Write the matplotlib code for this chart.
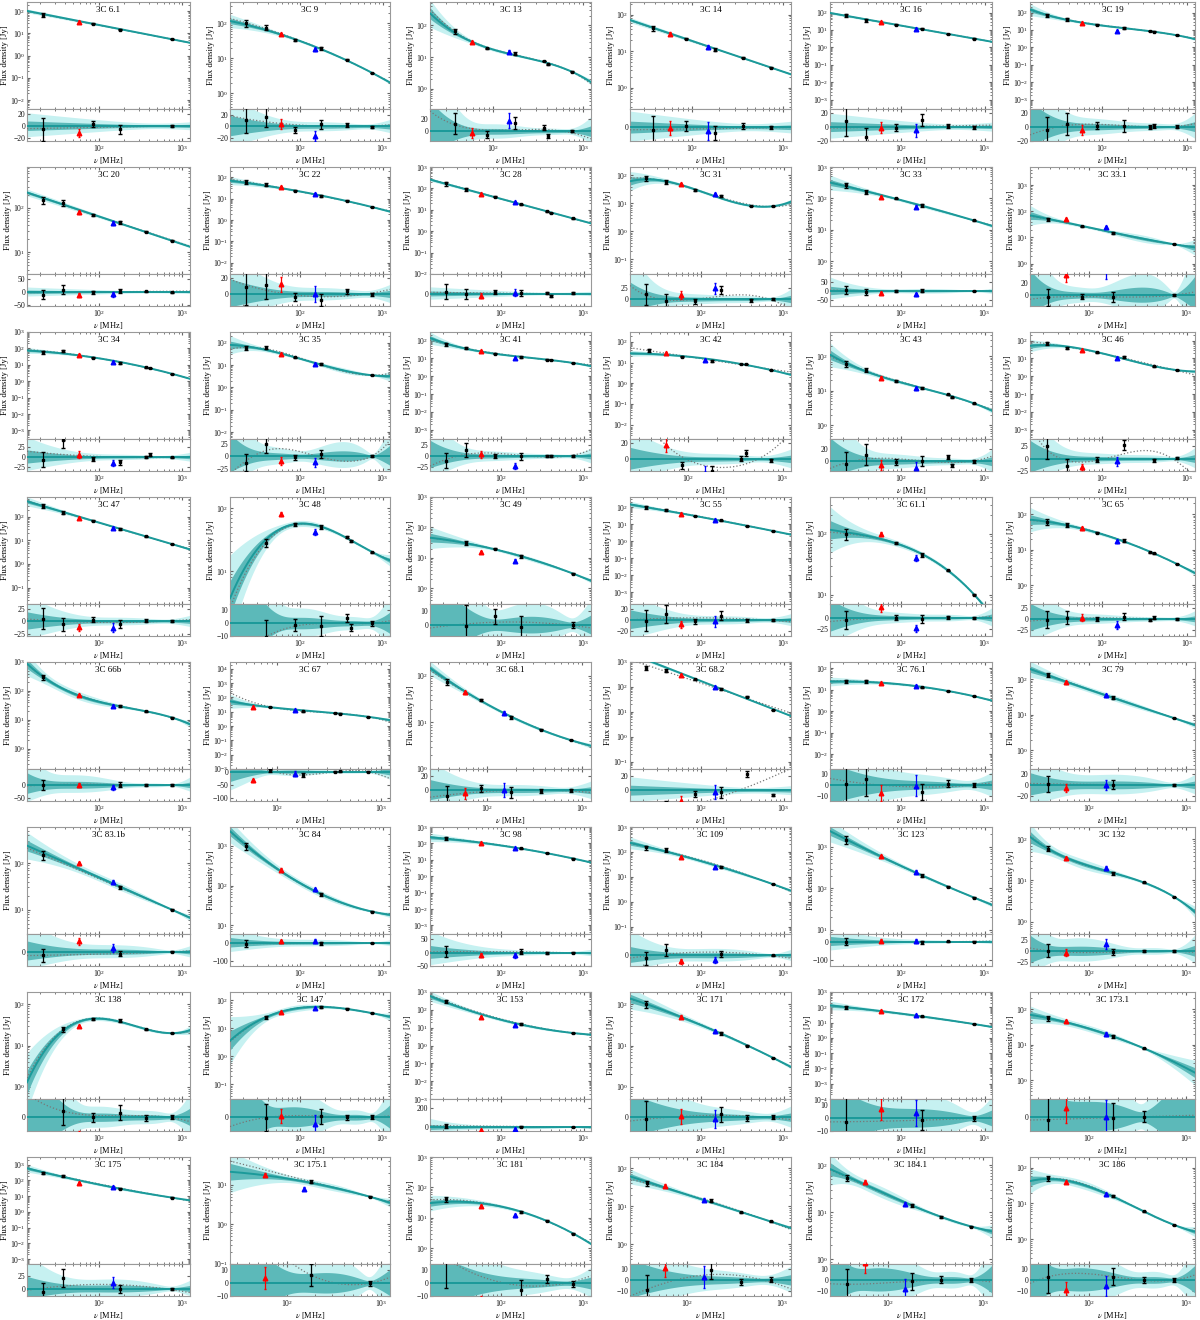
import numpy as np
import matplotlib
matplotlib.use("Agg")
import matplotlib.pyplot as plt
from matplotlib.ticker import LogLocator, MaxNLocator, NullFormatter

n = np.nan

NAMES = ["3C 6.1", "3C 9", "3C 13", "3C 14", "3C 16", "3C 19",
         "3C 20", "3C 22", "3C 28", "3C 31", "3C 33", "3C 33.1",
         "3C 34", "3C 35", "3C 41", "3C 42", "3C 43", "3C 46",
         "3C 47", "3C 48", "3C 49", "3C 55", "3C 61.1", "3C 65",
         "3C 66b", "3C 67", "3C 68.1", "3C 68.2", "3C 76.1", "3C 79",
         "3C 83.1b", "3C 84", "3C 98", "3C 109", "3C 123", "3C 132",
         "3C 138", "3C 147", "3C 153", "3C 171", "3C 172", "3C 173.1",
         "3C 175", "3C 175.1", "3C 181", "3C 184", "3C 184.1", "3C 186"]

# black reference points (Jy) at fixed frequencies (MHz)
S22 = [70, 100, n, n, 70, 70,
       150, 60, 170, 80, 260, n,
       60, 60, 60, n, 60, 70,
       300, n, n, 100, 100, 60,
       300, n, n, 600, 25, n,
       150, 1000, 200, 150, 1500, n,
       n, n, 300, 100, 100, n,
       300, n, 40, n, n, n]
S38 = [n, 75, 65, 42, 35, 40,
       130, 45, 90, 60, 160, 50,
       70, 60, 40, 40, 40, 40,
       150, 28, 30, 70, n, 50,
       n, n, 75, 450, 25, 130,
       n, n, n, 120, n, 60,
       25, 25, n, n, n, 55,
       200, n, n, 40, 55, 50]
S86 = [28, 33, 19, 22, 20, 20,
       70, 23, 40, 30, 100, 27,
       27, 22, 18, 19, 19, 22,
       70, 55, 20, 30, 70, 30,
       n, 22, 30, 200, n, n,
       n, n, n, n, n, n,
       45, n, n, n, n, n,
       n, n, n, n, n, n]
S178 = [15, 19, 13, 11, 12, 13,
        47, 13, 18, 18, 60, 15,
        13, 11, 12, 12, 12, 12,
        30, 50, 11, 17, 45, 18,
        30, 11, 13, 80, 13, 30,
        30, 60, 50, 25, 200, 15,
        40, 60, 16, 20, 25, 17,
        30, 12, 15, 14, 14, 16]
S365 = [n, 9, 7.5, 6.5, 6, 8.5,
        29, 8, 8.5, n, n, n,
        7, n, 8.5, 8.5, 8, n,
        15, 35, n, 8, 25, 8.5,
        20, 8, 7, 40, 9, n,
        n, n, 25, n, 110, 9,
        25, 50, n, 10, n, 8,
        n, n, 8, 7, 8, 6]
S408 = [n, n, 6, n, n, 8,
        n, n, 7, 8, n, n,
        6.5, n, 8, 8.3, 6.5, 3.5,
        n, 30, n, n, n, 8,
        n, 7.5, n, n, n, n,
        n, n, n, n, n, n,
        n, n, n, n, n, n,
        n, n, n, n, n, n]
S750 = [5.5, 3.8, 3.5, 3.5, 3.2, 5,
        18, 4, 4, 8, 20, 5.5,
        2.8, 3.5, 5.5, 4.3, 4.3, 2.2,
        7, 20, 3, 4, 10, 4,
        12, 4.5, 4.2, 12, 5, 8,
        10, 22, 12, 5, 60, 4,
        20, 35, 5, 5, 8, n,
        8, 5, 3, 4, 5, 2.5]
# LOFAR measurements
S_LBA = [32, 50, 30, 30, 28, 25,
         80, 35, 55, 50, 115, 50,
         40, 30, 25, 28, 24, 28,
         90, 80, 15, 40, 100, 40,
         70, 20, 45, 300, 20, 80,
         100, 250, 100, 60, 600, 35,
         30, 40, 40, 50, 60, 45,
         70, 18, 25, 35, 45, 40]
S_HBA = [n, 18, 15, 13, 12, 9,
         45, 16, 22, 22, 55, 25,
         15, 11, 10, 13, 12, 11,
         33, 42, 8, 18, 40, 17,
         30, 13, 16, 100, 15, 35,
         40, 80, 50, 25, 250, 20,
         n, 55, 15, 22, 30, 20,
         40, 8, 12, 15, 15, 18]

BLACK_FREQ = [22, 38, 86, 178, 365, 408, 750]
BLACK_ERR = [0.2, 0.15, 0.05, 0.08, 0.03, 0.03, 0.02]
LBA_FREQ, HBA_FREQ = 58, 150
LBA_ERR, HBA_ERR = 0.08, 0.1
LOFAR_FIT_ERR = 0.2

FIT_DEG = [1, 2, 3, 1, 1, 3,
           1, 2, 1, 3, 2, 3,
           2, 3, 3, 2, 3, 3,
           2, 3, 2, 2, 3, 3,
           3, 3, 2, 1, 2, 2,
           2, 2, 2, 2, 2, 3,
           3, 3, 2, 2, 2, 2,
           2, 2, 2, 2, 3, 3]

X_LO = [14, 14, 20, 21, 14, 14,
        14, 14, 14, 14, 14, 25,
        14, 14, 14, 24, 14, 14,
        14, 14, 14, 14, 14, 14,
        14, 35, 25, 14, 14, 25,
        14, 14, 14, 14, 14, 25,
        14, 14, 14, 14, 14, 25,
        14, 25, 14, 25, 25, 25]
X_HI = 1230

Y_LO = [4e-3, 0.36, 0.23, 0.26, 3e-4, 3e-4,
        3.2, 3e-3, 0.01, 0.03, 0.4, 0.4,
        3e-4, 0.005, 3e-4, 2e-3, 0.4, 3e-4,
        0.02, 3, 0.3, 2e-4, 7, 0.3,
        0.2, 1e-3, 1, 0.05, 2e-3, 0.3,
        3, 6, 3e-4, 0.05, 8, 0.5,
        0.5, 0.03, 1e-3, 0.5, 1e-4, 0.3,
        5e-4, 0.1, 0.3, 0.3, 0.8, 0.2]
Y_HI = [260, 400, 550, 220, 400, 400,
        840, 300, 1000, 200, 1000, 5000,
        1000, 300, 300, 300, 500, 300,
        700, 150, 1000, 400, 400, 300,
        1000, 3e4, 200, 1000, 200, 300,
        600, 3000, 1000, 1000, 3000, 200,
        200, 200, 1000, 200, 1000, 300,
        3000, 50, 1000, 200, 150, 200]

R_LO = [-25, -25, -15, -15, -20, -20,
        -55, -15, -35, -15, -80, -18,
        -35, -30, -35, -15, -15, -25,
        -30, -10, -8, -30, -40, -40,
        -60, -110, -15, -15, -15, -30,
        -40, -130, -50, -30, -130, -35,
        -15, -15, -40, -15, -10, -8,
        -15, -10, -10, -15, -15, -15]
R_HI = [28, 30, 35, 20, 25, 25,
        70, 25, 55, 55, 90, 35,
        45, 35, 40, 25, 35, 40,
        35, 15, 15, 30, 30, 35,
        60, 10, 30, 30, 15, 30,
        50, 50, 70, 60, 40, 40,
        20, 20, 300, 20, 15, 10,
        50, 15, 15, 15, 15, 15]

TEAL = "#1b9a9a"
DARK = "#5cb9b9"
LIGHT = "#c6f1f1"

plt.rcParams.update({
    "font.family": ["Liberation Serif", "DejaVu Serif"],
    "mathtext.fontset": "stix",
    "xtick.direction": "in", "ytick.direction": "in",
    "xtick.top": True, "ytick.right": True,
    "xtick.labelsize": 5.5, "ytick.labelsize": 5.5,
    "xtick.major.size": 2.5, "ytick.major.size": 2.5,
    "xtick.minor.size": 1.3, "ytick.minor.size": 1.3,
    "xtick.major.pad": 1.5, "ytick.major.pad": 1.2,
    "xtick.color": "#666", "ytick.color": "#666",
    "xtick.labelcolor": "#111", "ytick.labelcolor": "#111",
    "axes.edgecolor": "#999", "axes.linewidth": 0.8,
})

fig = plt.figure(figsize=(12, 13.2), dpi=100)
W, H = 1200.0, 1320.0
LEFTS = [27, 230, 430, 630, 830, 1030]
RIGHTS = [190, 390, 591, 791, 992, 1195]

BLACK = [S22, S38, S86, S178, S365, S408, S750]


def collect(i):
    f, s, e = [], [], []
    for nu, arr, ef in zip(BLACK_FREQ, BLACK, BLACK_ERR):
        v = arr[i]
        if np.isfinite(v):
            f.append(nu); s.append(v); e.append(ef * v)
    return np.array(f, float), np.array(s, float), np.array(e, float)


for i, name in enumerate(NAMES):
    r, c = divmod(i, 6)
    x0 = LEFTS[c] / W
    wd = (RIGHTS[c] - LEFTS[c]) / W
    top = 165 * r + 2
    mid = 165 * r + 109
    bot = 165 * r + 141
    ax = fig.add_axes([x0, 1 - mid / H, wd, (mid - top) / H])
    axr = fig.add_axes([x0, 1 - bot / H, wd, (bot - mid) / H], sharex=ax)

    f, s, e = collect(i)

    # main fit: black points plus LOFAR points with a loose weight
    ff, sf, ef = list(f), list(s), list(e / s)
    if np.isfinite(S_LBA[i]):
        ff.append(LBA_FREQ); sf.append(S_LBA[i]); ef.append(LOFAR_FIT_ERR)
    if np.isfinite(S_HBA[i]):
        ff.append(HBA_FREQ); sf.append(S_HBA[i]); ef.append(LOFAR_FIT_ERR)
    ff, sf, ef = np.array(ff), np.array(sf), np.array(ef)
    deg = min(FIT_DEG[i], len(ff) - 1)
    xf = np.log10(ff / 150.0)
    p, C = np.polyfit(xf, np.log10(sf), deg, w=np.log(10) / ef, cov="unscaled")

    # alternative fit: black points only, unweighted (dotted)
    dega = min(deg, len(f) - 1)
    pa = np.polyfit(np.log10(f / 150.0), np.log10(s), dega)

    nu = np.logspace(np.log10(X_LO[i]), np.log10(X_HI), 300)
    xg = np.log10(nu / 150.0)
    V = np.vander(xg, deg + 1)
    logm = V @ p
    sig = np.sqrt(np.einsum("ij,jk,ik->i", V, C, V))
    model = 10 ** logm
    alt = 10 ** np.polyval(pa, xg)

    ax.fill_between(nu, 10 ** (logm - 2.5 * sig), 10 ** (logm + 2.5 * sig), color=LIGHT, lw=0, zorder=1)
    ax.fill_between(nu, 10 ** (logm - sig), 10 ** (logm + sig), color=DARK, lw=0, zorder=2)
    ax.plot(nu, alt, color="#777", ls=":", lw=0.9, zorder=3)
    ax.plot(nu, model, color=TEAL, lw=1.4, zorder=4)

    ax.errorbar(f, s, yerr=e, fmt="s", ms=2.0, color="black", ecolor="black",
                elinewidth=0.9, capsize=1.2, zorder=6)
    if np.isfinite(S_LBA[i]):
        ax.errorbar([LBA_FREQ], [S_LBA[i]], yerr=[LBA_ERR * S_LBA[i]], fmt="^", ms=3.3,
                    color="red", ecolor="red", elinewidth=0.9, capsize=1, zorder=7)
    if np.isfinite(S_HBA[i]):
        ax.errorbar([HBA_FREQ], [S_HBA[i]], yerr=[HBA_ERR * S_HBA[i]], fmt="^", ms=3.3,
                    color="blue", ecolor="blue", elinewidth=0.9, capsize=1, zorder=7)

    ax.set_xscale("log")
    ax.set_yscale("log")
    ax.set_xlim(X_LO[i], X_HI)
    ax.set_ylim(Y_LO[i], Y_HI[i])
    ax.yaxis.set_major_locator(LogLocator(base=10, numticks=15))
    ax.yaxis.set_minor_locator(LogLocator(base=10, subs=np.arange(2, 10) * 0.1, numticks=15))
    ax.yaxis.set_minor_formatter(NullFormatter())
    ax.tick_params(axis="x", labelbottom=False)
    ax.set_ylabel("Flux density [Jy]", fontsize=6.3, labelpad=0.8)
    ax.text(0.5, 0.965, name, transform=ax.transAxes, ha="center", va="top", fontsize=6.5)

    # residual panel (percent)
    def model_at(fr):
        return 10 ** np.polyval(p, np.log10(np.asarray(fr, float) / 150.0))

    rb1 = 100 * (10 ** sig - 1)
    rb1l = 100 * (10 ** (-sig) - 1)
    rb3 = 100 * (10 ** (2.5 * sig) - 1)
    rb3l = 100 * (10 ** (-2.5 * sig) - 1)
    axr.fill_between(nu, rb3l, rb3, color=LIGHT, lw=0, zorder=1)
    axr.fill_between(nu, rb1l, rb1, color=DARK, lw=0, zorder=2)
    axr.plot(nu, 100 * (alt / model - 1), color="#777", ls=":", lw=0.9, zorder=3)
    axr.axhline(0, color=TEAL, lw=1.4, zorder=4)
    mf = model_at(f)
    axr.errorbar(f, 100 * (s / mf - 1), yerr=100 * e / mf, fmt="s", ms=2.0, color="black",
                 ecolor="black", elinewidth=0.9, capsize=1.2, zorder=6)
    if np.isfinite(S_LBA[i]):
        m0 = model_at(LBA_FREQ)
        axr.errorbar([LBA_FREQ], [100 * (S_LBA[i] / m0 - 1)], yerr=[100 * LBA_ERR * S_LBA[i] / m0],
                     fmt="^", ms=3.3, color="red", ecolor="red", elinewidth=0.9, capsize=1, zorder=7)
    if np.isfinite(S_HBA[i]):
        m0 = model_at(HBA_FREQ)
        axr.errorbar([HBA_FREQ], [100 * (S_HBA[i] / m0 - 1)], yerr=[100 * HBA_ERR * S_HBA[i] / m0],
                     fmt="^", ms=3.3, color="blue", ecolor="blue", elinewidth=0.9, capsize=1, zorder=7)
    lo, hi = R_LO[i], R_HI[i]
    axr.set_ylim(lo, hi)
    ticks = MaxNLocator(nbins=3, steps=[1, 2, 2.5, 5, 10]).tick_values(lo, hi)
    axr.set_yticks([t for t in ticks if lo <= t <= 0.8 * hi])
    axr.set_xlim(X_LO[i], X_HI)
    axr.set_xlabel(r"$\nu$ [MHz]", fontsize=6, labelpad=0.5)

fig.savefig("out.png", dpi=100)
